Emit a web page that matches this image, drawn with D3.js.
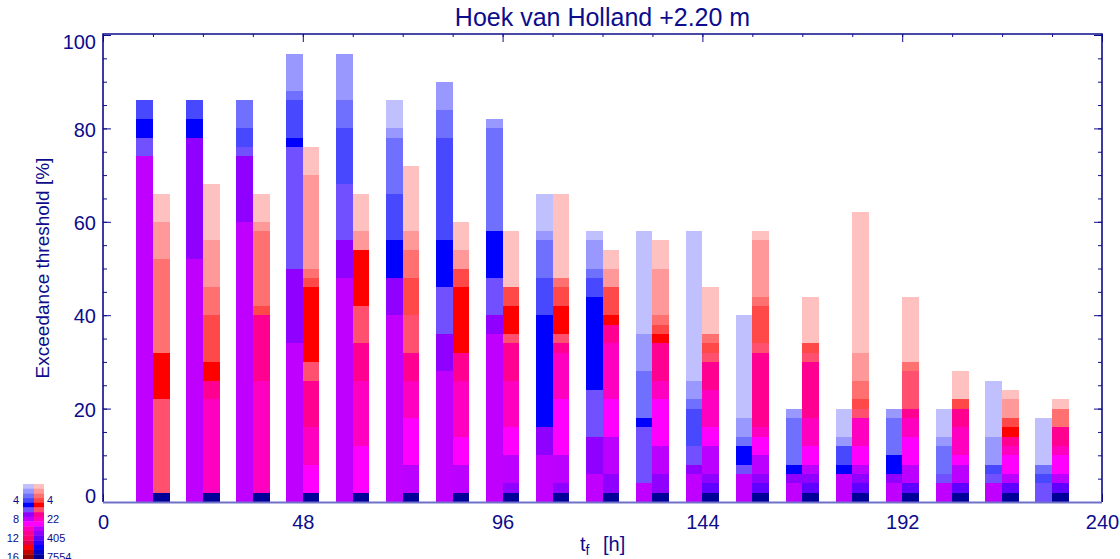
<!DOCTYPE html>
<html>
<head>
<meta charset="utf-8">
<script src="https://cdn.jsdelivr.net/npm/d3@7/dist/d3.min.js"></script>
<style>
  body { margin: 0; background: #fff; }
  text { font-family: "Liberation Sans", Arial, sans-serif; fill: #0c0c8c; }
</style>
</head>
<body>
<svg id="chart" width="1120" height="559"></svg>
<script>
// forecast lead times (h), one pair of bars each
var leadHours = [12, 24, 36, 48, 60, 72, 84, 96, 108, 120, 132, 144, 156, 168, 180, 192, 204, 216, 228]

// colour levels of the two legend columns (top to bottom)
var blueLevels = ["#c0c0ff", "#9898ff", "#7070ff", "#4848ff", "#0000ff", "#7050ff", "#9000ff", "#c000ff",
                  "#ff00ff", "#ff00c0", "#ff0090", "#ff0070", "#e00050", "#ff0000", "#c80000", "#900000"]
var redLevels = ["#ffc0c0", "#ff9898", "#ff7070", "#ff4848", "#ff0000", "#ff5070", "#ff0090", "#ff00c0",
                 "#ff00ff", "#bb00ff", "#9000ff", "#6000ff", "#3000ff", "#0000ff", "#0000c8", "#000098"]
var legendLeftTicks = [4, 8, 12, 16]
var legendRightTicks = ["4", "22", "405", "7554"]

// stacks from the bottom up: [upper edge %, colour level]
var blueStacks = [
  [[74, 8], [78, 6], [82, 5], [86, 4]],
  [[52, 8], [78, 7], [82, 5], [86, 4]],
  [[60, 8], [74, 7], [76, 6], [80, 4], [86, 3]],
  [[34, 8], [50, 7], [76, 6], [78, 5], [86, 4], [88, 3], [96, 2]],
  [[48, 8], [56, 7], [68, 6], [80, 4], [86, 3], [96, 2]],
  [[40, 8], [48, 7], [56, 5], [66, 4], [78, 3], [80, 2], [86, 1]],
  [[28, 8], [36, 7], [46, 6], [56, 5], [78, 4], [84, 3], [90, 2]],
  [[36, 8], [40, 7], [48, 6], [58, 5], [80, 3], [82, 2]],
  [[10, 8], [16, 7], [40, 5], [48, 4], [56, 3], [58, 2], [66, 1]],
  [[6, 8], [14, 7], [24, 6], [44, 5], [48, 4], [50, 3], [56, 2], [58, 1]],
  [[4, 8], [16, 6], [18, 5], [28, 3], [36, 2], [58, 1]],
  [[6, 8], [8, 7], [12, 6], [20, 4], [22, 3], [26, 2], [58, 1]],
  [[6, 8], [8, 6], [12, 5], [14, 3], [18, 2], [40, 1]],
  [[4, 8], [6, 7], [8, 5], [18, 3], [20, 2]],
  [[6, 8], [8, 5], [12, 4], [14, 2], [20, 1]],
  [[4, 8], [6, 7], [10, 5], [18, 3], [20, 2]],
  [[4, 8], [6, 6], [12, 3], [14, 2], [20, 1]],
  [[4, 8], [6, 6], [8, 4], [14, 2], [26, 1]],
  [[4, 6], [6, 4], [8, 3], [18, 1]]
]
var redStacks = [
  [[2, 16], [22, 6], [32, 5], [52, 3], [60, 2], [66, 1]],
  [[2, 16], [22, 8], [26, 7], [30, 5], [40, 4], [46, 3], [56, 2], [68, 1]],
  [[2, 16], [26, 8], [40, 7], [42, 4], [58, 3], [60, 2], [66, 1]],
  [[2, 16], [8, 9], [16, 8], [26, 7], [30, 6], [46, 5], [48, 4], [50, 3], [70, 2], [76, 1]],
  [[2, 16], [12, 9], [26, 8], [34, 7], [42, 6], [54, 5], [58, 2], [66, 1]],
  [[2, 16], [8, 10], [18, 9], [26, 8], [32, 7], [40, 6], [48, 4], [54, 3], [58, 2], [72, 1]],
  [[2, 16], [8, 10], [14, 9], [26, 8], [32, 7], [46, 5], [50, 4], [54, 2], [60, 1]],
  [[2, 16], [4, 11], [10, 10], [16, 9], [26, 8], [34, 7], [36, 6], [42, 5], [46, 4], [58, 1]],
  [[2, 16], [4, 11], [10, 10], [22, 9], [32, 8], [34, 7], [36, 6], [42, 5], [46, 4], [48, 3], [66, 1]],
  [[2, 16], [6, 11], [14, 10], [22, 9], [34, 8], [38, 7], [40, 5], [46, 4], [50, 2], [54, 1]],
  [[2, 16], [6, 11], [12, 10], [22, 9], [26, 8], [34, 7], [36, 5], [38, 4], [40, 3], [50, 2], [56, 1]],
  [[2, 16], [4, 12], [6, 11], [12, 10], [16, 9], [24, 8], [30, 7], [32, 6], [34, 4], [36, 3], [46, 1]],
  [[2, 16], [4, 12], [6, 11], [10, 10], [14, 9], [16, 8], [32, 7], [34, 6], [42, 4], [44, 3], [56, 2], [58, 1]],
  [[2, 16], [4, 12], [6, 11], [8, 10], [12, 9], [18, 8], [30, 7], [32, 6], [34, 4], [44, 1]],
  [[2, 16], [4, 12], [6, 11], [8, 10], [12, 9], [18, 8], [20, 6], [22, 4], [26, 3], [32, 2], [62, 1]],
  [[2, 16], [4, 12], [8, 10], [14, 9], [18, 8], [20, 7], [28, 6], [30, 3], [44, 1]],
  [[2, 16], [4, 12], [8, 10], [10, 9], [16, 8], [20, 7], [22, 4], [28, 1]],
  [[2, 16], [4, 12], [6, 10], [10, 9], [12, 8], [14, 7], [16, 5], [18, 4], [22, 2], [24, 1]],
  [[2, 16], [4, 12], [6, 10], [10, 9], [12, 8], [16, 7], [20, 3], [22, 1]]
]
var xTicks = [0, 48, 96, 144, 192, 240]
var yTicks = [0, 20, 40, 60, 80, 100]

var ink = "#0c0c8c"
var svg = d3.select("#chart")
// note: "top" is taken by window.top, so the frame edges get their own names
var plotLeft = 103, plotRight = 1102, plotTop = 34, plotBottom = 502
var barHours = 4 // each bar covers 4 h

var x = d3.scaleLinear().domain([0, 240]).range([plotLeft, plotRight])
var y = d3.scaleLinear().domain([0, 100]).range([plotBottom, plotTop + 1])
var levels = d3.range(1, 17)
var blueColor = d3.scaleOrdinal().domain(levels).range(blueLevels)
var redColor = d3.scaleOrdinal().domain(levels).range(redLevels)

// ticks first, the bars will sit on top of the bottom ones
function styleAxis(g) {
  g.select(".domain").remove()
  g.selectAll("line").attr("stroke", ink)
  g.selectAll("text").attr("fill", ink).style("font-size", "20px")
}
svg.append("g").attr("transform", "translate(" + plotLeft + ",0)")
  .call(d3.axisLeft(y).tickValues(d3.range(0, 101, 5)).tickSize(-4).tickFormat(""))
  .call(styleAxis)
var yAxis = svg.append("g").attr("transform", "translate(" + plotLeft + ",0)")
  .call(d3.axisLeft(y).tickValues(yTicks).tickSize(-8).tickPadding(7))
  .call(styleAxis)
// the end labels are pulled inwards, like in the original plot
yAxis.selectAll(".tick text").attr("dy", function(d) {
  return d === 100 ? "0.65em" : d === 0 ? "0.02em" : "0.38em"
})
svg.append("g").attr("transform", "translate(" + plotRight + ",0)")
  .call(d3.axisRight(y).tickValues(d3.range(0, 101, 5)).tickSize(-4).tickFormat(""))
  .call(styleAxis)
svg.append("g").attr("transform", "translate(" + plotRight + ",0)")
  .call(d3.axisRight(y).tickValues(yTicks).tickSize(-8).tickFormat(""))
  .call(styleAxis)
svg.append("g").attr("transform", "translate(0," + plotBottom + ")")
  .call(d3.axisBottom(x).tickValues(d3.range(0, 241, 12)).tickSize(-4).tickFormat(""))
  .call(styleAxis)
svg.append("g").attr("transform", "translate(0," + plotBottom + ")")
  .call(d3.axisBottom(x).tickValues(xTicks).tickSize(-8).tickPadding(13))
  .call(styleAxis)
svg.append("g").attr("transform", "translate(0," + plotTop + ")")
  .call(d3.axisTop(x).tickValues(d3.range(0, 241, 12)).tickSize(-3).tickFormat(""))
  .call(styleAxis)
svg.append("g").attr("transform", "translate(0," + plotTop + ")")
  .call(d3.axisTop(x).tickValues(xTicks).tickSize(-8).tickFormat(""))
  .call(styleAxis)

// turn a stack into segments with a lower and an upper edge
function segments(stack, hour, offset) {
  var lower = 0
  return stack.map(function(s) {
    var seg = { hour: hour, offset: offset, y0: lower, y1: s[0], level: s[1] }
    lower = s[0]
    return seg
  })
}

function drawStacks(stacks, offset, color) {
  var all = []
  stacks.forEach(function(stack, i) { all = all.concat(segments(stack, leadHours[i], offset)) })
  svg.append("g").selectAll("rect").data(all).enter().append("rect")
    .attr("x", function(d) { return x(d.hour + d.offset) })
    .attr("width", x(barHours) - x(0))
    .attr("y", function(d) { return y(d.y1) })
    .attr("height", function(d) { return y(d.y0) - y(d.y1) })
    .attr("fill", function(d) { return color(d.level) })
    .attr("shape-rendering", "crispEdges")
}
drawStacks(blueStacks, -barHours, blueColor)
drawStacks(redStacks, 0, redColor)

// frame
svg.append("path")
  .attr("d", "M" + plotLeft + "," + plotBottom + "V" + plotTop + "H" + plotRight + "V" + plotBottom)
  .attr("fill", "none").attr("stroke", ink).attr("stroke-width", 1.6)
svg.append("line")
  .attr("x1", plotLeft).attr("x2", plotRight).attr("y1", plotBottom + 0.5).attr("y2", plotBottom + 0.5)
  .attr("stroke", "#7070c8").attr("stroke-width", 2)

// titles
svg.append("text").attr("x", (plotLeft + plotRight) / 2).attr("y", 26)
  .attr("text-anchor", "middle").style("font-size", "25px")
  .text("Hoek van Holland +2.20 m")
svg.append("text")
  .attr("transform", "translate(49," + (plotTop + plotBottom) / 2 + ") rotate(-90)")
  .attr("text-anchor", "middle").style("font-size", "19px")
  .text("Exceedance threshold [%]")
var xLabel = svg.append("text").attr("x", 580).attr("y", 551).style("font-size", "20px")
xLabel.append("tspan").text("t")
xLabel.append("tspan").attr("dy", 4).style("font-size", "14px").text("f")
xLabel.append("tspan").attr("x", 603).attr("dy", -4).text("[h]")

// colour legend, two columns
var band = d3.scaleBand().domain(levels).range([484, 559])
var legend = svg.append("g")
legend.selectAll("rect.l").data(levels).enter().append("rect")
  .attr("x", 23).attr("width", 11)
  .attr("y", function(d) { return band(d) }).attr("height", band.bandwidth() + 0.3)
  .attr("fill", function(d) { return blueColor(d) })
legend.selectAll("rect.r").data(levels).enter().append("rect")
  .attr("x", 34).attr("width", 10)
  .attr("y", function(d) { return band(d) }).attr("height", band.bandwidth() + 0.3)
  .attr("fill", function(d) { return redColor(d) })
legend.selectAll("text.l").data(legendLeftTicks).enter().append("text")
  .attr("x", 19).attr("y", function(d) { return band(d) + band.bandwidth() / 2 })
  .attr("dy", "0.36em").attr("text-anchor", "end").style("font-size", "11px")
  .text(function(d) { return d })
legend.selectAll("text.r").data(legendRightTicks).enter().append("text")
  .attr("x", 47).attr("y", function(d, i) { return band(legendLeftTicks[i]) + band.bandwidth() / 2 })
  .attr("dy", "0.36em").style("font-size", "11px")
  .text(function(d) { return d })
</script>
</body>
</html>
